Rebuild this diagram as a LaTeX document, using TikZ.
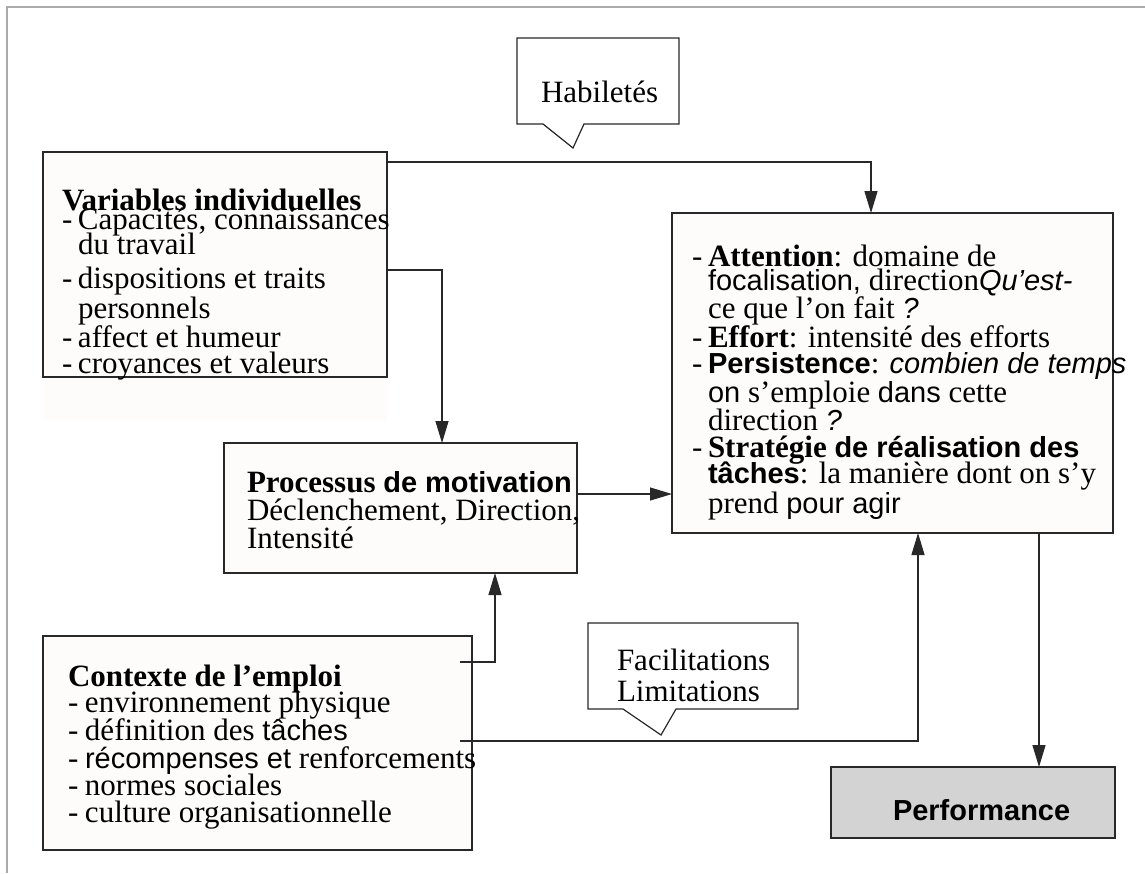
\documentclass[tikz,border=0pt]{standalone}
\usepackage{fontspec}
\setmainfont{Liberation Serif}
\setsansfont{Liberation Sans}[Scale=0.935]
\usetikzlibrary{arrows.meta}
\definecolor{boxfill}{RGB}{253,252,250}
\definecolor{edge}{RGB}{40,40,40}
\definecolor{framegray}{RGB}{170,170,170}
\definecolor{perfgray}{RGB}{211,211,211}
\newcommand{\dsh}[1][16pt]{\makebox[#1][l]{-}}
\begin{document}
\begin{tikzpicture}[x=1pt,y=-1pt,
  box/.style={draw=edge,line width=1.2pt,fill=boxfill,anchor=north west,inner sep=0pt,outer sep=0pt},
  txt/.style={anchor=base west,inner sep=0pt,outer sep=0pt,font=\fontsize{31}{31}\selectfont},
  conn/.style={draw=edge,line width=1.2pt},
  arr/.style={conn,-{Triangle[length=22pt,width=13pt]}},
  call/.style={draw=edge,line width=1.2pt,fill=white,line join=miter}]
\useasboundingbox (0,0) rectangle (1145,873);
\fill[white] (0,0) rectangle (1145,873);
\draw[framegray,line width=2pt] (7,873) -- (7,7) -- (1145,7);

% boxes
\fill[boxfill] (43,152) rectangle (387,420);
\node[box,minimum width=344pt,minimum height=225pt] (var) at (43,152) {};
\node[box,minimum width=441pt,minimum height=320pt] (att) at (672,213) {};
\node[box,minimum width=353pt,minimum height=130pt] (proc) at (224,443) {};
\node[box,minimum width=429pt,minimum height=214pt] (ctx) at (43,636) {};
\node[box,fill=perfgray,minimum width=284pt,minimum height=71pt] (perf) at (831,767) {};

% callouts
\draw[call] (517,38) -- (679,38) -- (679,124) -- (584,124) -- (573,148) -- (543,124) -- (517,124) -- cycle;
\draw[call] (588,623) -- (798,623) -- (798,709) -- (676,709) -- (661,735) -- (623,709) -- (588,709) -- cycle;

% connector end points
\coordinate (varA) at (387,162);
\coordinate (attN) at (871,213);
\coordinate (varB) at (387,270);
\coordinate (procN) at (442,443);
\coordinate (procE) at (577,494);
\coordinate (attW) at (672,494);
\coordinate (ctxA) at (460,662);
\coordinate (procS) at (495,573);
\coordinate (ctxB) at (460,741);
\coordinate (attS) at (918,533);
\coordinate (attS2) at (1039,533);
\coordinate (perfN) at (1039,767);

\draw[arr] (varA) -| (attN);
\draw[arr] (varB) -| (procN);
\draw[arr] (procE) -- (attW);
\draw[arr] (ctxA) -| (procS);
\draw[arr] (ctxB) -| (attS);
\draw[arr] (attS2) -- (perfN);

% callout texts
\node[txt] (hab) at (541,102) {Habiletés};
\node[txt] (fac1) at (617,670) {Facilitations};
\node[txt] (fac2) at (617,701) {Limitations};

% Variables individuelles
\node[txt] (v0) at (62,210) {\textbf{Variables individuelles}};
\node[txt] (v1) at (62,229) {\dsh Capacités, connaissances};
\node[txt] (v2) at (78,254) {du travail};
\node[txt] (v3) at (62,288) {\dsh dispositions et traits};
\node[txt] (v4) at (78,318) {personnels};
\node[txt] (v5) at (62,347) {\dsh affect et humeur};
\node[txt] (v6) at (62,373) {\dsh croyances et valeurs};

% Attention box
\node[txt] (a1) at (692,266) {\dsh\textbf{Attention}: domaine de};
\node[txt] (a2) at (708,290) {{\sffamily focalisation,} direction{\sffamily\itshape Qu’est-}};
\node[txt] (a3) at (708,318) {ce que l’on fait {\sffamily\itshape ?}};
\node[txt] (a4) at (692,347) {\dsh\textbf{Effort}: intensité des efforts};
\node[txt] (a5) at (692,373) {\dsh{\sffamily\bfseries Persistence}: {\sffamily\itshape combien de temps}};
\node[txt] (a6) at (708,402) {{\sffamily on} s’emploie {\sffamily dans} cette};
\node[txt] (a7) at (708,430) {direction {\sffamily\itshape ?}};
\node[txt] (a8) at (692,457) {\dsh\textbf{Stratégie} {\sffamily\bfseries de réalisation des}};
\node[txt] (a9) at (708,483) {{\sffamily\bfseries tâches}: la manière dont on s’y};
\node[txt] (a10) at (708,513) {prend {\sffamily pour agir}};

% Processus
\node[txt] (p1) at (247,492) {\textbf{Processus} {\sffamily\bfseries de motivation}};
\node[txt] (p2) at (247,520) {Déclenchement, Direction,};
\node[txt] (p3) at (247,548) {Intensité};

% Contexte
\node[txt] (c0) at (68,686) {\textbf{Contexte de l’emploi}};
\node[txt] (c1) at (68,712) {\dsh[17pt]environnement physique};
\node[txt] (c2) at (68,740) {\dsh[17pt]définition des {\sffamily tâches}};
\node[txt] (c3) at (68,768) {\dsh[17pt]{\sffamily récompenses et} renforcements};
\node[txt] (c4) at (68,795) {\dsh[17pt]normes sociales};
\node[txt] (c5) at (68,822) {\dsh[17pt]culture organisationnelle};

% Performance
\node[txt] (pf) at (893,820) {\sffamily\bfseries Performance};
\end{tikzpicture}
\end{document}
